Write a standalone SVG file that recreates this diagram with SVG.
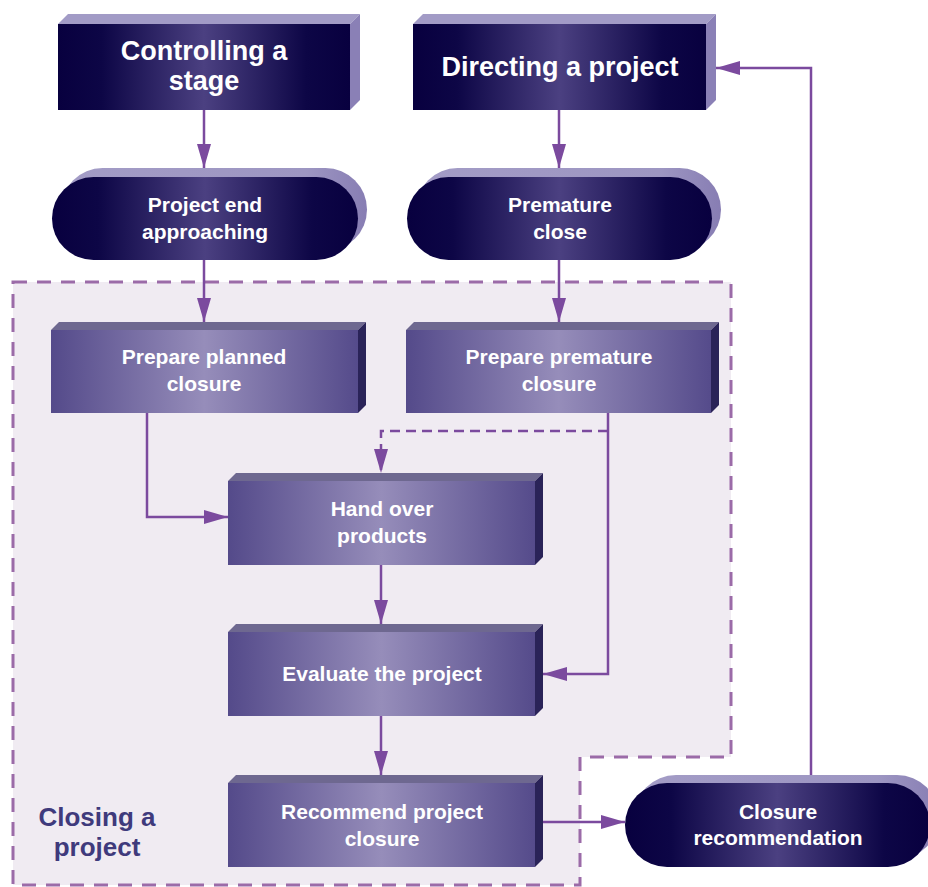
<svg xmlns="http://www.w3.org/2000/svg" width="928" height="887" viewBox="0 0 928 887">
  <defs>
    <linearGradient id="darkGrad" x1="0" y1="0" x2="1" y2="0">
      <stop offset="0" stop-color="#08003f"/>
      <stop offset="0.15" stop-color="#0d0646"/>
      <stop offset="0.5" stop-color="#4b4081"/>
      <stop offset="0.85" stop-color="#0d0646"/>
      <stop offset="1" stop-color="#08003f"/>
    </linearGradient>
    <linearGradient id="midGrad" x1="0" y1="0" x2="1" y2="0">
      <stop offset="0" stop-color="#544a8a"/>
      <stop offset="0.5" stop-color="#968dba"/>
      <stop offset="1" stop-color="#554b8b"/>
    </linearGradient>
    <linearGradient id="pillBack" x1="0" y1="0" x2="1" y2="0">
      <stop offset="0" stop-color="#a39cc6"/>
      <stop offset="0.8" stop-color="#9d96c2"/>
      <stop offset="1" stop-color="#877db3"/>
    </linearGradient>
    <marker id="arrow" markerUnits="userSpaceOnUse" markerWidth="24" markerHeight="14" refX="24" refY="7" orient="auto" viewBox="0 0 24 14">
      <path d="M0,0 L24,7 L0,14 z" fill="#7b4a9e" stroke="none"/>
    </marker>
    <style>
      .dtop { fill: #a29bc6; }
      .dside { fill: #8a80b6; }
      .dfront { fill: url(#darkGrad); }
      .mtop { fill: #6e6890; }
      .mside { fill: #2a2358; }
      .mfront { fill: url(#midGrad); }
      .pback { fill: url(#pillBack); }
      .t { font-family: "Liberation Sans", Arial, sans-serif; font-weight: bold; fill: #ffffff; text-anchor: middle; }
      .big { font-size: 27px; }
      .med { font-size: 21px; }
      .conn { fill: none; stroke: #7b4a9e; stroke-width: 2.5; }
      .dash { stroke-dasharray: 10 6; }
      .region { fill: #f0ebf2; stroke: #9b6ba8; stroke-width: 3; stroke-dasharray: 14 10; }
      .label { font-family: "Liberation Sans", Arial, sans-serif; font-weight: bold; font-size: 26px; fill: #3f3a7c; text-anchor: middle; }
    </style>
  </defs>

  <g id="closing-region">
    <path class="region" d="M13,282 H731 V757 H580 V885 H13 Z"/>
    <text class="label" x="97" y="826">Closing a</text>
    <text class="label" x="97" y="856">project</text>
  </g>

  <g id="connectors">
    <path class="conn" d="M204,110 V168" marker-end="url(#arrow)"/>
    <path class="conn" d="M559,110 V168" marker-end="url(#arrow)"/>
    <path class="conn" d="M204,260 V322" marker-end="url(#arrow)"/>
    <path class="conn" d="M559,260 V322" marker-end="url(#arrow)"/>
    <path class="conn" d="M147,413 V517 H228" marker-end="url(#arrow)"/>
    <path class="conn" d="M608,413 V674 H543" marker-end="url(#arrow)"/>
    <path class="conn dash" d="M608,431 H381 V473" marker-end="url(#arrow)"/>
    <path class="conn" d="M381,565 V624" marker-end="url(#arrow)"/>
    <path class="conn" d="M381,716 V775" marker-end="url(#arrow)"/>
    <path class="conn" d="M543,822 H625" marker-end="url(#arrow)"/>
    <path class="conn" d="M811,775 V68 H716" marker-end="url(#arrow)"/>
  </g>

  <g id="controlling-a-stage">
    <polygon class="dtop" points="58,24 68,14 360,14 350,24"/>
    <polygon class="dside" points="350,24 360,14 360,100 350,110"/>
    <rect class="dfront" x="58" y="24" width="292" height="86"/>
    <text class="t big" x="204" y="60">Controlling a</text>
    <text class="t big" x="204" y="90">stage</text>
  </g>

  <g id="directing-a-project">
    <polygon class="dtop" points="413,24 423,14 716,14 706,24"/>
    <polygon class="dside" points="706,24 716,14 716,100 706,110"/>
    <rect class="dfront" x="413" y="24" width="293" height="86"/>
    <text class="t big" x="560" y="76">Directing a project</text>
  </g>

  <g id="project-end-approaching">
    <rect class="pback" x="61" y="168" width="306" height="83" rx="41.5"/>
    <rect class="dfront" x="52" y="177" width="306" height="83" rx="41.5"/>
    <text class="t med" x="205" y="212">Project end</text>
    <text class="t med" x="205" y="239">approaching</text>
  </g>

  <g id="premature-close">
    <rect class="pback" x="416" y="168" width="305" height="83" rx="41.5"/>
    <rect class="dfront" x="407" y="177" width="305" height="83" rx="41.5"/>
    <text class="t med" x="560" y="212">Premature</text>
    <text class="t med" x="560" y="239">close</text>
  </g>

  <g id="prepare-planned-closure">
    <polygon class="mtop" points="51,330 59,322 366,322 358,330"/>
    <polygon class="mside" points="358,330 366,322 366,405 358,413"/>
    <rect class="mfront" x="51" y="330" width="307" height="83"/>
    <text class="t med" x="204" y="364">Prepare planned</text>
    <text class="t med" x="204" y="391">closure</text>
  </g>

  <g id="prepare-premature-closure">
    <polygon class="mtop" points="406,330 414,322 719,322 711,330"/>
    <polygon class="mside" points="711,330 719,322 719,405 711,413"/>
    <rect class="mfront" x="406" y="330" width="305" height="83"/>
    <text class="t med" x="559" y="364">Prepare premature</text>
    <text class="t med" x="559" y="391">closure</text>
  </g>

  <g id="hand-over-products">
    <polygon class="mtop" points="228,481 236,473 543,473 535,481"/>
    <polygon class="mside" points="535,481 543,473 543,557 535,565"/>
    <rect class="mfront" x="228" y="481" width="307" height="84"/>
    <text class="t med" x="382" y="516">Hand over</text>
    <text class="t med" x="382" y="543">products</text>
  </g>

  <g id="evaluate-the-project">
    <polygon class="mtop" points="228,632 236,624 543,624 535,632"/>
    <polygon class="mside" points="535,632 543,624 543,708 535,716"/>
    <rect class="mfront" x="228" y="632" width="307" height="84"/>
    <text class="t med" x="382" y="681">Evaluate the project</text>
  </g>

  <g id="recommend-project-closure">
    <polygon class="mtop" points="228,783 236,775 543,775 535,783"/>
    <polygon class="mside" points="535,783 543,775 543,859 535,867"/>
    <rect class="mfront" x="228" y="783" width="307" height="84"/>
    <text class="t med" x="382" y="819">Recommend project</text>
    <text class="t med" x="382" y="846">closure</text>
  </g>

  <g id="closure-recommendation">
    <rect class="pback" x="634" y="775" width="305" height="84" rx="42"/>
    <rect class="dfront" x="625" y="783" width="305" height="84" rx="42"/>
    <text class="t med" x="778" y="819">Closure</text>
    <text class="t med" x="778" y="845">recommendation</text>
  </g>
</svg>
